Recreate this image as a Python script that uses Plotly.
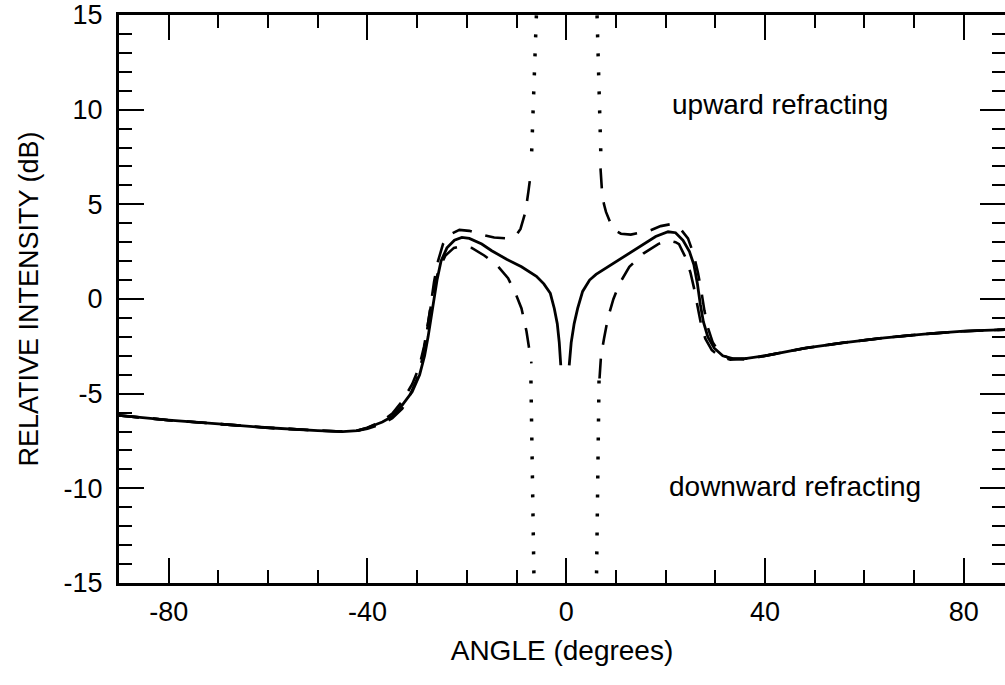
import plotly.graph_objects as go

# ---------------- data ----------------
solid_left_angle = [-90, -80, -70, -60, -50, -45, -42, -40, -37, -35, -33, -31, -29.5, -28.5,
                    -27.8, -27.2, -26.7, -26.0, -25.2, -24.0, -22.5, -21.0, -19.5, -17.0, -15.0,
                    -12.0, -9.0, -6.0, -4.5, -3.2, -2.4, -1.8, -1.4, -1.1]
solid_left_db = [-6.15, -6.4, -6.6, -6.8, -6.95, -7.0, -6.95, -6.8, -6.5, -6.2, -5.6, -4.9, -4.0, -3.0,
                 -2.0, -1.0, 0.0, 1.0, 2.0, 2.7, 3.1, 3.25, 3.2, 2.9, 2.55,
                 2.1, 1.7, 1.2, 0.8, 0.3, -0.5, -1.3, -2.3, -3.5]
solid_right_angle = [0.6, 1.0, 1.6, 2.3, 3.3, 4.7, 6.0, 9.0, 12.0, 15.0, 18.0, 20.5, 22.0, 23.5,
                     24.8, 25.7, 26.4, 27.0, 27.6, 28.5, 29.8, 31.5, 33.5, 36.0, 40.0, 48.0,
                     56.0, 64.0, 72.0, 80.0, 90.0]
solid_right_db = [-3.5, -2.3, -1.3, -0.5, 0.4, 1.0, 1.3, 1.8, 2.3, 2.8, 3.3, 3.55, 3.5, 3.1,
                  2.5, 1.8, 0.8, -0.3, -1.2, -2.0, -2.6, -3.0, -3.15, -3.15, -3.0, -2.6,
                  -2.3, -2.05, -1.85, -1.7, -1.6]

up_left_angle = [-90, -80, -70, -60, -50, -45, -42, -40, -37, -35, -33, -31.5, -30, -29, -28.3,
                 -27.7, -27.2, -26.6, -25.8, -24.8, -23.5, -21.5, -19.5, -17.0, -14.5, -12.0,
                 -10.0, -9.2, -8.2, -7.6, -7.0]
up_left_db = [-6.15, -6.4, -6.6, -6.8, -6.95, -7.0, -6.95, -6.85, -6.6, -6.3, -5.8, -5.1, -4.2, -3.2, -2.2,
              -1.2, -0.2, 0.9, 2.0, 2.9, 3.4, 3.65, 3.6, 3.4, 3.25, 3.2,
              3.4, 3.7, 4.6, 5.7, 6.9]
up_right_angle = [6.9, 7.2, 7.6, 8.0, 9.4, 11.0, 13.0, 16.7, 19.0, 21.0, 23.0, 24.5, 25.6, 26.5,
                  27.2, 27.8, 28.5, 29.5, 31.0, 33.0, 36.0, 40.0, 48.0, 56.0, 64.0, 72.0, 80.0, 90.0]
up_right_db = [6.9, 5.7, 5.0, 4.6, 3.7, 3.45, 3.4, 3.6, 3.85, 3.95, 3.7, 3.2, 2.4, 1.4,
               0.4, -0.6, -1.5, -2.3, -2.9, -3.15, -3.2, -3.0, -2.6, -2.3, -2.05, -1.85, -1.7, -1.6]

down_left_angle = [-90, -80, -70, -60, -50, -45, -42, -40, -37, -35, -33, -31, -29.6, -28.6, -27.9,
                   -27.3, -26.6, -25.6, -24.3, -22.6, -21.0, -19.0, -16.5, -14.0, -11.7, -10.2,
                   -9.0, -8.0, -7.0]
down_left_db = [-6.15, -6.4, -6.6, -6.8, -6.95, -7.0, -6.95, -6.8, -6.45, -6.05, -5.4, -4.5, -3.6, -2.5, -1.4,
                -0.4, 0.6, 1.6, 2.3, 2.7, 2.8, 2.7, 2.3, 1.8, 1.1, 0.3,
                -0.5, -1.7, -3.4]
down_right_angle = [6.7, 7.0, 7.6, 8.4, 9.5, 10.7, 12.7, 15.5, 18.5, 20.5, 22.0, 22.7, 24.0, 25.0,
                    25.7, 26.4, 27.1, 28.0, 29.3, 31.0, 33.0, 36.0, 40.0, 48.0, 56.0, 64.0, 72.0, 80.0, 90.0]
down_right_db = [-4.2, -3.0, -2.1, -1.0, 0.0, 0.8, 1.7, 2.4, 2.9, 3.1, 3.0, 2.9, 2.2, 1.4,
                 0.6, -0.4, -1.3, -2.1, -2.7, -3.05, -3.2, -3.15, -3.0, -2.6, -2.3, -2.05, -1.85, -1.7, -1.6]

# dotted continuations toward the singular angles
up_dot_left_angle = [-6.95, -6.0]
up_dot_left_db = [7.8, 15.0]
up_dot_right_angle = [6.95, 6.2]
up_dot_right_db = [7.8, 15.0]
down_dot_left_angle = [-7.1, -6.5]
down_dot_left_db = [-4.3, -14.6]
down_dot_right_angle = [6.6, 6.1]
down_dot_right_db = [-4.3, -14.6]

x_range = [-90, 88.3]
y_range = [-15, 15]
x_tick_vals = [-80, -40, 0, 40, 80]
x_tick_text = ["-80", "-40", "0", "40", "80"]
y_tick_vals = [-15, -10, -5, 0, 5, 10, 15]
y_tick_text = ["-15", "-10", "-5", "0", "5", "10", "15"]

label_up = "upward refracting"
label_down = "downward refracting"
x_title = "ANGLE (degrees)"
y_title = "RELATIVE INTENSITY (dB)"

# ---------------- figure ----------------
FONT = "Liberation Sans, Arial, Helvetica, sans-serif"
BLACK = "#000000"


def join(a1, b1, a2, b2):
    return a1 + [None] + a2, b1 + [None] + b2


fig = go.Figure()

x, y = join(up_left_angle, up_left_db, up_right_angle, up_right_db)
fig.add_trace(go.Scatter(x=x, y=y, mode="lines", name=label_up, connectgaps=False,
                         line=dict(color=BLACK, width=2.6, dash="20px,14px")))
x, y = join(down_left_angle, down_left_db, down_right_angle, down_right_db)
fig.add_trace(go.Scatter(x=x, y=y, mode="lines", name=label_down, connectgaps=False,
                         line=dict(color=BLACK, width=2.6, dash="20px,14px")))
x, y = join(solid_left_angle, solid_left_db, solid_right_angle, solid_right_db)
fig.add_trace(go.Scatter(x=x, y=y, mode="lines", name="no refraction", connectgaps=False,
                         line=dict(color=BLACK, width=2.8)))
x, y = join(up_dot_left_angle, up_dot_left_db, up_dot_right_angle, up_dot_right_db)
fig.add_trace(go.Scatter(x=x, y=y, mode="lines", name=label_up + " (limit)", connectgaps=False,
                         line=dict(color=BLACK, width=3.5, dash="3px,16px")))
x, y = join(down_dot_left_angle, down_dot_left_db, down_dot_right_angle, down_dot_right_db)
fig.add_trace(go.Scatter(x=x, y=y, mode="lines", name=label_down + " (limit)", connectgaps=False,
                         line=dict(color=BLACK, width=3.5, dash="3px,16px")))
# invisible trace to anchor the right-hand tick axis
fig.add_trace(go.Scatter(x=[x_range[0]], y=[y_range[0]], yaxis="y2", mode="markers",
                         marker=dict(opacity=0), hoverinfo="skip", showlegend=False))

fig.add_annotation(x=43, y=10.25, text=label_up, showarrow=False,
                   font=dict(family=FONT, size=28, color=BLACK))
fig.add_annotation(x=46, y=-9.9, text=label_down, showarrow=False,
                   font=dict(family=FONT, size=28, color=BLACK))

fig.update_layout(
    width=1005, height=685,
    margin=dict(l=119, r=0, t=13, b=102),
    paper_bgcolor="white", plot_bgcolor="white",
    showlegend=False,
    font=dict(family=FONT, size=27, color=BLACK),
    xaxis=dict(
        range=x_range, tickmode="array", tickvals=x_tick_vals, ticktext=x_tick_text,
        ticks="inside", ticklen=25, tickwidth=2, tickcolor=BLACK,
        minor=dict(dtick=10, tick0=0, ticks="inside", ticklen=13, tickwidth=2, tickcolor=BLACK, showgrid=False),
        showline=True, linewidth=3, linecolor=BLACK, mirror="ticks",
        showgrid=False, zeroline=False,
        tickfont=dict(size=27), ticklabelstandoff=3, ticklabeloverflow="allow",
        title=dict(text=x_title, font=dict(size=28), standoff=14),
    ),
    yaxis=dict(
        range=y_range, tickmode="array", tickvals=y_tick_vals, ticktext=y_tick_text,
        ticks="inside", ticklen=25, tickwidth=2, tickcolor=BLACK,
        minor=dict(dtick=1, tick0=0, ticks="inside", ticklen=13, tickwidth=2, tickcolor=BLACK, showgrid=False),
        showline=True, linewidth=3, linecolor=BLACK, mirror=False,
        showgrid=False, zeroline=False,
        tickfont=dict(size=27), ticklabelstandoff=8, ticklabeloverflow="allow",
        title=dict(text=y_title, font=dict(size=27), standoff=18),
    ),
    yaxis2=dict(
        range=y_range, overlaying="y", side="right", tickmode="array", tickvals=y_tick_vals,
        ticks="inside", ticklen=25, tickwidth=2, tickcolor=BLACK,
        minor=dict(dtick=1, tick0=0, ticks="inside", ticklen=13, tickwidth=2, tickcolor=BLACK, showgrid=False),
        showline=False, showticklabels=False, showgrid=False, zeroline=False,
    ),
)

fig.write_html("out.html")
